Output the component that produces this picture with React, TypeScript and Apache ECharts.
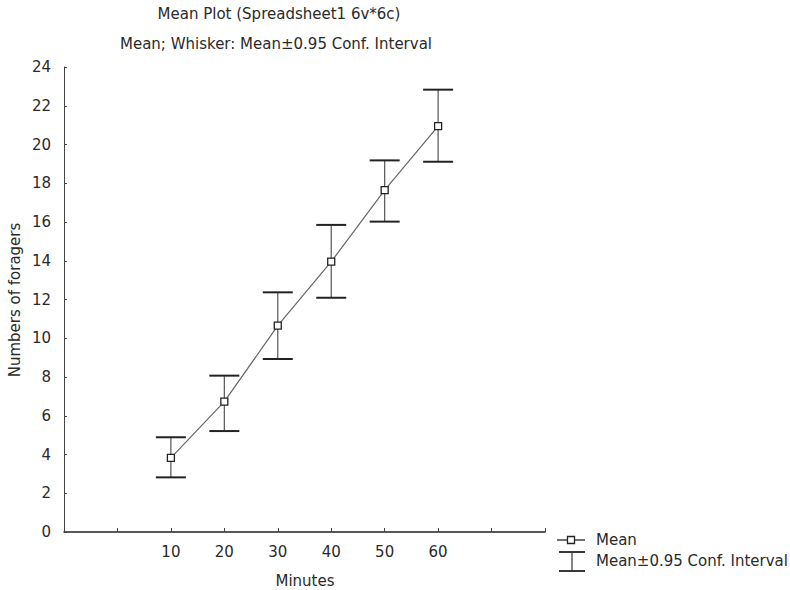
import React, { useEffect, useRef } from "react";
import * as echarts from "echarts";

const minutes = [10, 20, 30, 40, 50, 60];
const means = [3.83, 6.73, 10.65, 13.95, 17.65, 20.95];
const upper = [4.89, 8.07, 12.37, 15.85, 19.18, 22.83];
const lower = [2.82, 5.21, 8.93, 12.09, 16.02, 19.11];
const xTickLabels = ["10", "20", "30", "40", "50", "60"];

const FONT = "DejaVu Sans, Verdana, sans-serif";
const FS = 15;
const TXT = "#2a2a2a";

export default function App() {
  const ref = useRef<HTMLDivElement>(null);
  useEffect(() => {
    if (!ref.current) return;
    const chart = echarts.init(ref.current, undefined, { renderer: "svg" });
    const errData = minutes.map((m, i) => [m, lower[i], upper[i]]);
    chart.setOption({
      animation: false,
      backgroundColor: "#ffffff",
      grid: { left: 64, right: 245, top: 67, bottom: 58 },
      xAxis: {
        type: "value",
        min: -10,
        max: 80,
        interval: 10,
        splitLine: { show: false },
        axisLine: { onZero: false, lineStyle: { color: "#222", width: 1.5 } },
        axisTick: { inside: true, length: 4, lineStyle: { color: "#444" } },
        axisLabel: {
          color: TXT,
          fontFamily: FONT,
          fontSize: FS,
          margin: 12,
          formatter: (v: number) => (xTickLabels.includes(String(v)) ? String(v) : ""),
        },
      },
      yAxis: {
        type: "value",
        min: 0,
        max: 24,
        interval: 2,
        splitLine: { show: false },
        axisLine: { show: true, onZero: false, lineStyle: { color: "#444", width: 1 } },
        axisTick: { show: true, inside: true, length: 3, lineStyle: { color: "#444" } },
        axisLabel: { color: TXT, fontFamily: FONT, fontSize: FS, margin: 13 },
      },
      series: [
        {
          type: "custom",
          name: "Mean±0.95 Conf. Interval",
          data: errData,
          z: 1,
          renderItem: (params: any, api: any) => {
            const x = api.value(0);
            const lo = api.coord([x, api.value(1)]);
            const hi = api.coord([x, api.value(2)]);
            const hw = 15;
            return {
              type: "group",
              children: [
                {
                  type: "line",
                  shape: { x1: lo[0], y1: lo[1], x2: hi[0], y2: hi[1] },
                  style: { stroke: "#555", lineWidth: 1.2 },
                },
                {
                  type: "line",
                  shape: { x1: hi[0] - hw, y1: hi[1], x2: hi[0] + hw, y2: hi[1] },
                  style: { stroke: "#222", lineWidth: 2 },
                },
                {
                  type: "line",
                  shape: { x1: lo[0] - hw, y1: lo[1], x2: lo[0] + hw, y2: lo[1] },
                  style: { stroke: "#222", lineWidth: 2 },
                },
              ],
            };
          },
        },
        {
          type: "line",
          name: "Mean",
          data: minutes.map((m, i) => [m, means[i]]),
          z: 3,
          symbol: "rect",
          symbolSize: 7,
          lineStyle: { color: "#666", width: 1.2 },
          itemStyle: { color: "#ffffff", borderColor: "#222", borderWidth: 1.3 },
        },
      ],
      graphic: [
        {
          type: "text",
          x: 279,
          y: 14,
          style: {
            text: "Mean Plot (Spreadsheet1 6v*6c)",
            font: `${FS}px ${FONT}`,
            fill: TXT,
            align: "center",
            verticalAlign: "middle",
          },
        },
        {
          type: "text",
          x: 276,
          y: 44,
          style: {
            text: "Mean; Whisker: Mean±0.95 Conf. Interval",
            font: `${FS}px ${FONT}`,
            fill: TXT,
            align: "center",
            verticalAlign: "middle",
          },
        },
        {
          type: "text",
          x: 15,
          y: 300,
          rotation: Math.PI / 2,
          style: {
            text: "Numbers of foragers",
            font: `${FS}px ${FONT}`,
            fill: TXT,
            align: "center",
            verticalAlign: "middle",
          },
        },
        {
          type: "text",
          x: 305,
          y: 581,
          style: {
            text: "Minutes",
            font: `${FS}px ${FONT}`,
            fill: TXT,
            align: "center",
            verticalAlign: "middle",
          },
        },
        // legend: Mean
        {
          type: "line",
          shape: { x1: 557, y1: 540, x2: 585, y2: 540 },
          style: { stroke: "#222", lineWidth: 1.3 },
        },
        {
          type: "rect",
          shape: { x: 567.5, y: 536.5, width: 7, height: 7 },
          style: { fill: "#fff", stroke: "#222", lineWidth: 1.3 },
        },
        {
          type: "text",
          x: 596,
          y: 540,
          style: { text: "Mean", font: `${FS}px ${FONT}`, fill: TXT, verticalAlign: "middle" },
        },
        // legend: whisker
        {
          type: "line",
          shape: { x1: 559, y1: 552, x2: 585, y2: 552 },
          style: { stroke: "#222", lineWidth: 1.8 },
        },
        {
          type: "line",
          shape: { x1: 572, y1: 552, x2: 572, y2: 571 },
          style: { stroke: "#333", lineWidth: 1.2 },
        },
        {
          type: "line",
          shape: { x1: 559, y1: 571, x2: 585, y2: 571 },
          style: { stroke: "#222", lineWidth: 1.8 },
        },
        {
          type: "text",
          x: 596,
          y: 561,
          style: {
            text: "Mean±0.95 Conf. Interval",
            font: `${FS}px ${FONT}`,
            fill: TXT,
            verticalAlign: "middle",
          },
        },
      ],
    });
    return () => chart.dispose();
  }, []);
  return <div ref={ref} style={{ width: 790, height: 590, position: "absolute", left: 0, top: 0 }} />;
}
